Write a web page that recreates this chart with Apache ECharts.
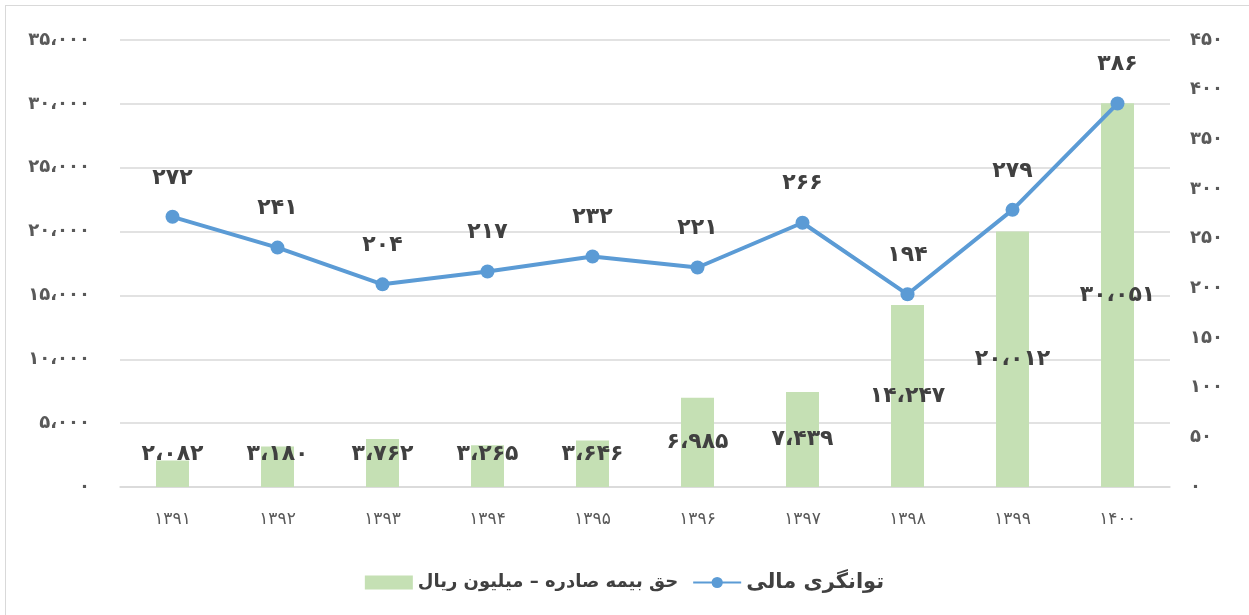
<!DOCTYPE html>
<html>
<head>
<meta charset="utf-8">
<script src="https://cdn.jsdelivr.net/npm/echarts@6/dist/echarts.min.js"></script>
<style>
  html, body { margin: 0; padding: 0; background: #fff; }
  #frame { position: absolute; left: 5px; top: 5px; width: 1260px; height: 620px; border: 1px solid #d9d9d9; box-sizing: border-box; }
  #chart { position: absolute; left: 0; top: 0; width: 1249px; height: 615px; }
</style>
</head>
<body>
<div id="frame"></div>
<div id="chart"></div>
<script>
// داده‌ها
const years = [1391, 1392, 1393, 1394, 1395, 1396, 1397, 1398, 1399, 1400];
const premium = [2082, 3180, 3762, 3265, 3646, 6985, 7439, 14247, 20012, 30051]; // حق بیمه صادره – میلیون ریال
const solvency = [272, 241, 204, 217, 232, 221, 266, 194, 279, 386]; // توانگری مالی
const premiumName = 'حق بیمه صادره – میلیون ریال';
const solvencyName = 'توانگری مالی';

const faDigits = '۰۱۲۳۴۵۶۷۸۹';
function toFa(n, sep) {
  let s = String(n);
  if (sep) s = s.replace(/\B(?=(\d{3})+(?!\d))/g, '،');
  return s.replace(/\d/g, d => faDigits[d]);
}

const font = '"DejaVu Sans", sans-serif';
const chart = echarts.init(document.getElementById('chart'));

chart.setOption({
  animation: false,
  textStyle: { fontFamily: font },
  grid: { left: 120, right: 79, top: 40, bottom: 128 },
  legend: {
    bottom: 17,
    left: 'center',
    itemGap: 14,
    itemWidth: 48,
    itemHeight: 14,
    textStyle: { fontSize: 18, fontWeight: 'bold', color: '#404040', fontFamily: font },
    data: [
      { name: premiumName, icon: 'rect' },
      { name: solvencyName, textStyle: { fontSize: 21 } }
    ]
  },
  xAxis: {
    type: 'category',
    data: years,
    axisLine: { lineStyle: { color: '#d9d9d9', width: 1.5 } },
    axisTick: { show: false },
    axisLabel: { color: '#595959', fontSize: 17, margin: 24, formatter: v => toFa(v) }
  },
  yAxis: [
    {
      type: 'value', min: 0, max: 35000, interval: 5000,
      splitLine: { lineStyle: { color: '#d9d9d9', width: 1.5 } },
      axisLabel: { color: '#595959', fontSize: 18, fontWeight: 'bold', margin: 30, formatter: v => toFa(v, true) }
    },
    {
      type: 'value', min: 0, max: 450, interval: 50,
      splitLine: { show: false },
      axisLabel: { color: '#595959', fontSize: 18, fontWeight: 'bold', margin: 20, align: 'left', formatter: v => toFa(v) }
    }
  ],
  series: [
    {
      name: premiumName,
      type: 'bar',
      barWidth: 33,
      itemStyle: { color: '#c5e0b4' },
      data: premium.map(v => v < 5000
        ? { value: v, label: { position: 'insideBottom', distance: 22 } }
        : v),
      label: {
        show: true, position: 'inside',
        color: '#404040', fontSize: 22, fontWeight: 'bold', fontFamily: font,
        formatter: p => toFa(p.value, true)
      },
      z: 1
    },
    {
      name: solvencyName,
      type: 'line',
      yAxisIndex: 1,
      symbol: 'circle',
      symbolSize: 14,
      lineStyle: { color: '#5b9bd5', width: 4 },
      itemStyle: { color: '#5b9bd5' },
      data: solvency,
      label: {
        show: true, position: 'top', distance: 21,
        color: '#404040', fontSize: 22, fontWeight: 'bold', fontFamily: font,
        formatter: p => toFa(p.value)
      },
      z: 3
    }
  ]
});
</script>
</body>
</html>
